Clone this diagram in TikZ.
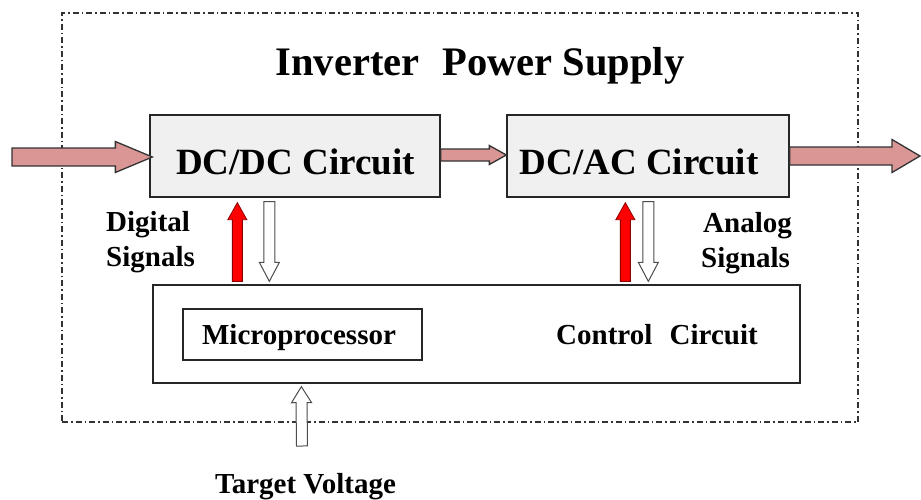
\documentclass[tikz,border=0pt]{standalone}
\usepackage{fontspec}
\setmainfont{Liberation Serif}
\usetikzlibrary{calc}
\definecolor{pinkfill}{RGB}{217,150,148}
\definecolor{boxgray}{RGB}{240,240,240}
% block arrow: style, start, tip, half shaft width, half head width, head length
\newcommand\blkarrow[6]{%
  \coordinate (tmpH) at ($(#3)!#6!(#2)$);
  \draw[#1] ($(#2)!#4!90:(#3)$) -- ($(tmpH)!#4!90:(#3)$) -- ($(tmpH)!#5!90:(#3)$)
    -- (#3) -- ($(tmpH)!#5!-90:(#3)$) -- ($(tmpH)!#4!-90:(#3)$) -- ($(#2)!#4!-90:(#3)$) -- cycle;
}
\tikzset{
  box/.style={draw=black!85, line width=1.3pt, inner sep=0pt},
  dcbox/.style={box, fill=boxgray},
  outerbox/.style={draw=black!80, line width=1.4pt, dash pattern=on 6pt off 3pt on 1.5pt off 3pt, inner sep=0pt},
  bigtxt/.style={font=\bfseries\fontsize{37}{42}\selectfont, anchor=base, inner sep=0pt},
  smalltxt/.style={font=\bfseries\fontsize{29}{35}\selectfont, anchor=base, inner sep=0pt},
  pinkarrow/.style={fill=pinkfill, draw=black!80, line width=1.3pt, line join=miter},
  redarrow/.style={fill=red, draw=red!55!black, line width=0.8pt, line join=miter},
  hollowarrow/.style={fill=white, draw=black!70, line width=1pt, line join=miter},
}
\begin{document}
\begin{tikzpicture}[x=1pt, y=-1pt]
\useasboundingbox (0,0) rectangle (921,499);
\node[outerbox, minimum width=796pt, minimum height=409pt] (outer) at (460,217.5) {};
\node[font=\bfseries\fontsize{40.5}{48}\selectfont, anchor=base, inner sep=0pt] (title) at (480,75) {Inverter\hspace{0.57em}Power Supply};

\node[dcbox, minimum width=290pt, minimum height=82pt] (dcdc) at (295,156) {};
\node[dcbox, minimum width=282pt, minimum height=82pt] (dcac) at (648,156) {};
\node[box, fill=white, minimum width=647pt, minimum height=98pt] (ctrl) at (476.5,334) {};
\node[box, fill=white, minimum width=239pt, minimum height=51pt] (micro) at (302.5,334.5) {};

\node[bigtxt] (dcdctxt) at (295.5,174) {DC/DC Circuit};
\node[bigtxt] (dcactxt) at (639,174) {DC/AC Circuit};
\node[smalltxt] (ctrltxt) at (657,344) {Control\hspace{0.6em}Circuit};
\node[smalltxt] (microtxt) at (299,344) {Microprocessor};
\node[smalltxt, anchor=base west] (dig1) at (106,231) {Digital};
\node[smalltxt, anchor=base west] (dig2) at (106,266) {Signals};
\node[smalltxt, anchor=base west] (ana1) at (703,232) {Analog};
\node[smalltxt, anchor=base west] (ana2) at (701,267) {Signals};
\node[smalltxt] (target) at (305.5,493) {Target Voltage};

% horizontal power arrows
\coordinate (inS) at (12,157);
\coordinate (inE) at ($(dcdc.west)+(3pt,-1pt)$);
\blkarrow{pinkarrow}{inS}{inE}{9pt}{15.5pt}{37pt}
\coordinate (midS) at ($(dcdc.east)+(0pt,1pt)$);
\coordinate (midE) at ($(dcac.west)+(0pt,1pt)$);
\blkarrow{pinkarrow}{midS}{midE}{6pt}{9.5pt}{17pt}
\coordinate (outE) at (920,156);
\blkarrow{pinkarrow}{dcac.east}{outE}{9pt}{16.5pt}{28pt}

% signal arrows
\coordinate (r1S) at ($(ctrl.north west)+(85pt,3pt)$);
\coordinate (r1E) at ($(dcdc.south west)+(88pt,-5pt)$);
\blkarrow{redarrow}{r1S}{r1E}{5pt}{9.5pt}{17pt}
\coordinate (h1S) at ($(dcdc.south west)+(120pt,-4pt)$);
\coordinate (h1E) at ($(ctrl.north west)+(117pt,3pt)$);
\blkarrow{hollowarrow}{h1S}{h1E}{5.5pt}{10pt}{19pt}
\coordinate (r2S) at ($(ctrl.north west)+(473pt,3pt)$);
\coordinate (r2E) at ($(dcac.south west)+(119pt,-5pt)$);
\blkarrow{redarrow}{r2S}{r2E}{5pt}{9.5pt}{17pt}
\coordinate (h2S) at ($(dcac.south west)+(142pt,-4pt)$);
\coordinate (h2E) at ($(ctrl.north west)+(496pt,3pt)$);
\blkarrow{hollowarrow}{h2S}{h2E}{5.5pt}{10pt}{19pt}

% target voltage input
\coordinate (tvS) at (302,446);
\coordinate (tvE) at ($(ctrl.south west)+(149pt,-3pt)$);
\blkarrow{hollowarrow}{tvS}{tvE}{5.5pt}{10pt}{16pt}
\end{tikzpicture}
\end{document}
